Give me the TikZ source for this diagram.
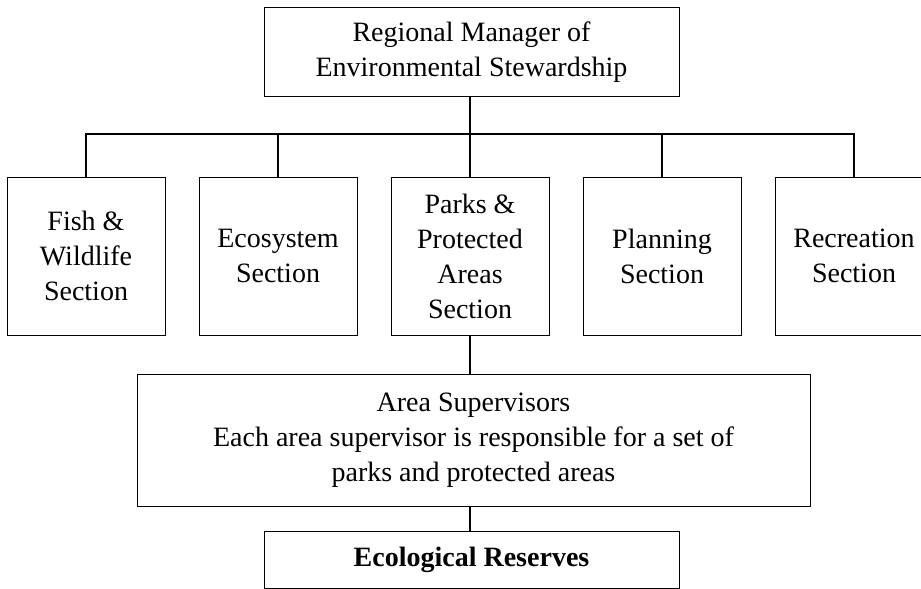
\documentclass[tikz,border=0pt]{standalone}
\usepackage{fontspec}
\setmainfont{Liberation Serif}
\begin{document}
\begin{tikzpicture}[x=1pt,y=1pt,
  box/.style={draw,line width=1pt,align=center,inner sep=0pt,
    font=\fontsize{28}{35}\selectfont},
  sect/.style={box,minimum width=158pt,minimum height=158pt},
  conn/.style={line width=2.6pt}]
\useasboundingbox (0,0) rectangle (921,-589);
\fill[white] (0,0) rectangle (921,-589);
\node[box,minimum width=415pt,minimum height=89pt] (top) at (471.5,-52)
  {Regional Manager of\\Environmental Stewardship};
\node[sect] (s1) at (86,-256) {Fish \&\\Wildlife\\Section};
\node[sect] (s2) at (278,-256) {Ecosystem\\Section};
\node[sect] (s3) at (470,-256) {Parks \&\\Protected\\Areas\\Section};
\node[sect] (s4) at (662,-256) {Planning\\Section};
\node[sect] (s5) at (854,-256) {Recreation\\Section};
\node[box,minimum width=673pt,minimum height=132pt] (area) at (473.5,-440)
  {Area Supervisors\\Each area supervisor is responsible for a set of\\parks and protected areas};
\node[box,minimum width=415pt,minimum height=57pt] (eco) at (471.5,-559.5)
  {\textbf{Ecological Reserves}};
\coordinate (bus) at (0,-134);
\draw[conn] (s3.north |- top.south) -- (s3.north |- bus);
\draw[conn] (s1.north) -- (s1.north |- bus) -- (s5.north |- bus) -- (s5.north);
\draw[conn] (s2.north) -- (s2.north |- bus);
\draw[conn] (s3.north) -- (s3.north |- bus);
\draw[conn] (s4.north) -- (s4.north |- bus);
\draw[conn] (s3.south) -- (s3.south |- area.north);
\draw[conn] (s3.south |- area.south) -- (s3.south |- eco.north);
\end{tikzpicture}
\end{document}
